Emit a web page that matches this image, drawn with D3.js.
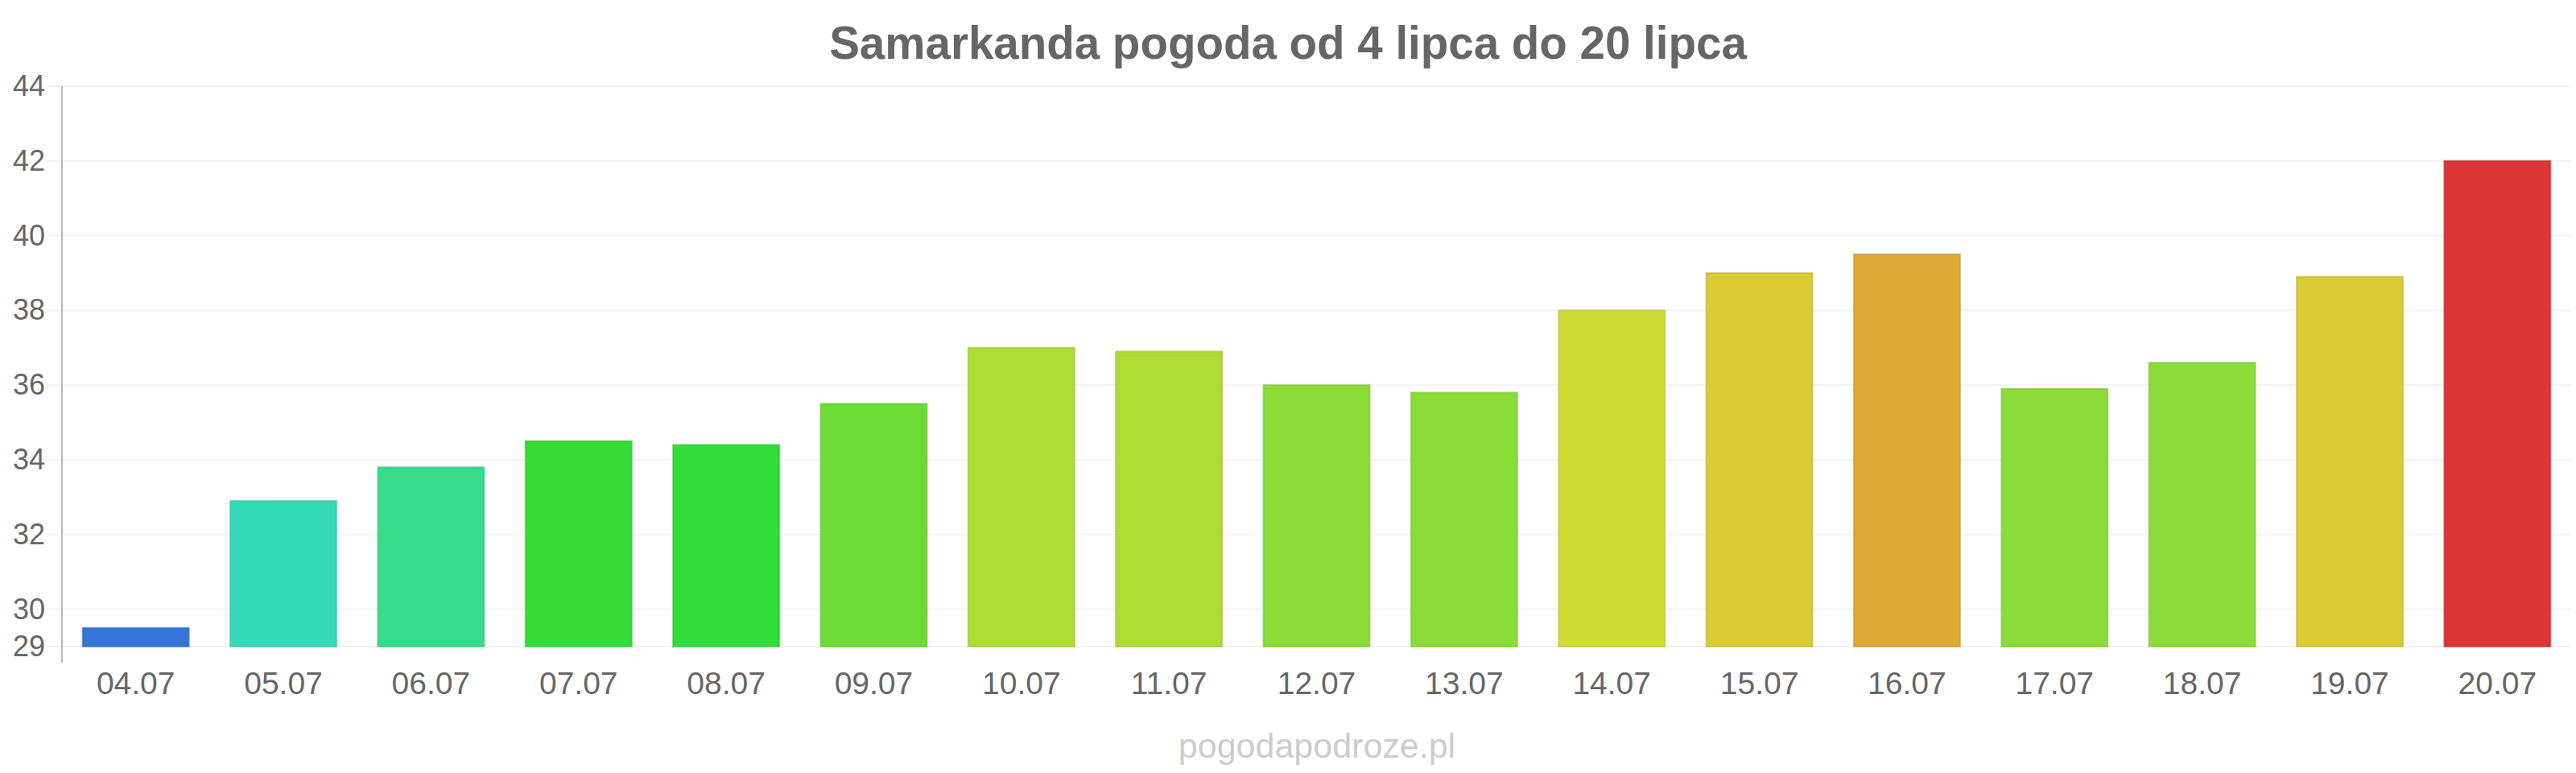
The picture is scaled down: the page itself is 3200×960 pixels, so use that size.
<!DOCTYPE html>
<html>
<head>
<meta charset="utf-8">
<script src="https://cdn.jsdelivr.net/npm/d3@7/dist/d3.min.js"></script>
<style>
  html, body { margin: 0; padding: 0; background: #fff; }
  svg { display: block; }
  text { font-family: "Liberation Sans", Arial, sans-serif; }
</style>
</head>
<body>
<svg id="chart" width="3200" height="960"></svg>
<script>
const title = "Samarkanda pogoda od 4 lipca do 20 lipca";
const watermark = "pogodapodroze.pl";
const categories = ["04.07","05.07","06.07","07.07","08.07","09.07","10.07","11.07","12.07","13.07","14.07","15.07","16.07","17.07","18.07","19.07","20.07"];
const values = [29.5, 32.9, 33.8, 34.5, 34.4, 35.5, 37.0, 36.9, 36.0, 35.8, 38.0, 39.0, 39.5, 35.9, 36.6, 38.9, 42.0];
const colors = ["#3474d8","#35dbb8","#38db8a","#35dc38","#33dc38","#6cdc38","#addd35","#addd35","#8bdc38","#8bdc38","#cfdc35","#dbcb35","#dba835","#8bdc38","#8bdc38","#dbcb35","#db3535"];
const yTicks = [29, 30, 32, 34, 36, 38, 40, 42, 44];
const yDomain = [29, 44];

const svg = d3.select("#chart");
const margin = { left: 77, right: 6, top: 107, bottom: 157 };
const W = 3200, H = 960;

const x = d3.scaleBand()
  .domain(categories)
  .range([margin.left, W - margin.right])
  .paddingInner(0.28)
  .paddingOuter(0.14);

const y = d3.scaleLinear()
  .domain(yDomain)
  .range([H - margin.bottom, margin.top]);

// gridlines
svg.append("g")
  .selectAll("line")
  .data(yTicks)
  .join("line")
  .attr("x1", margin.left - 20)
  .attr("x2", W - margin.right)
  .attr("y1", d => y(d))
  .attr("y2", d => y(d))
  .attr("stroke", "#f2f2f2")
  .attr("stroke-width", 2);

// y axis labels
const yAxis = d3.axisLeft(y).tickValues(yTicks).tickSize(0).tickPadding(21);
const gy = svg.append("g")
  .attr("transform", `translate(${margin.left},0)`)
  .call(yAxis);
gy.select(".domain").remove();
gy.selectAll("text")
  .attr("fill", "#666")
  .attr("font-size", 36)
  .attr("font-family", "Liberation Sans, Arial, sans-serif");

// axis line
svg.append("line")
  .attr("x1", margin.left).attr("x2", margin.left)
  .attr("y1", y(44)).attr("y2", y(29) + 20)
  .attr("stroke", "#bbb")
  .attr("stroke-width", 2);

// bars
svg.append("g")
  .selectAll("rect")
  .data(values)
  .join("rect")
  .attr("x", (d, i) => x(categories[i]))
  .attr("width", x.bandwidth())
  .attr("y", d => y(d))
  .attr("height", d => y(yDomain[0]) - y(d))
  .attr("fill", (d, i) => colors[i])
  .attr("stroke", (d, i) => d3.color(colors[i]).darker(0.35))
  .attr("stroke-opacity", 0.6)
  .attr("stroke-width", 2);

// x axis labels
const xAxis = d3.axisBottom(x).tickSize(0).tickPadding(31);
const gx = svg.append("g")
  .attr("transform", `translate(0,${y(yDomain[0])})`)
  .call(xAxis);
gx.select(".domain").remove();
gx.selectAll("text")
  .attr("fill", "#666")
  .attr("font-size", 39)
  .attr("font-family", "Liberation Sans, Arial, sans-serif");

// title
svg.append("text")
  .attr("x", 1600)
  .attr("y", 73)
  .attr("text-anchor", "middle")
  .attr("font-size", 56.5)
  .attr("font-weight", "bold")
  .attr("fill", "#666")
  .text(title);

// watermark
svg.append("text")
  .attr("x", 1636)
  .attr("y", 941)
  .attr("text-anchor", "middle")
  .attr("font-size", 43)
  .attr("fill", "#ccc")
  .text(watermark);
</script>
</body>
</html>
